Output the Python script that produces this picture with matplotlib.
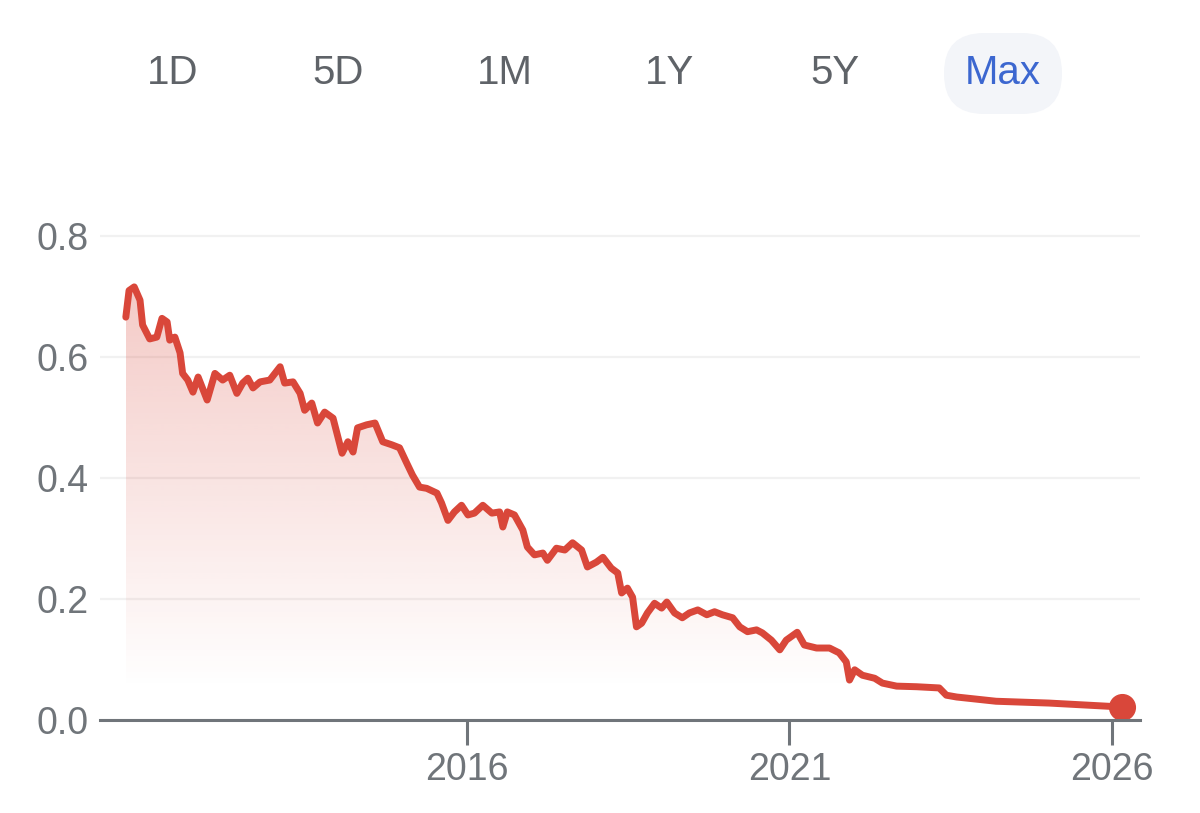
import matplotlib
matplotlib.use("Agg")
import matplotlib.pyplot as plt
import numpy as np
from matplotlib.patches import FancyBboxPatch, Polygon
from matplotlib.transforms import IdentityTransform

plt.rcParams['font.family'] = ['Liberation Sans', 'DejaVu Sans']

# values (decimal year, price)
years = [2010.72, 2010.77, 2010.85, 2010.94, 2010.98, 2011.09, 2011.20, 2011.28,
         2011.36, 2011.40, 2011.48, 2011.56, 2011.60, 2011.68, 2011.76, 2011.84,
         2011.98, 2012.10, 2012.22, 2012.33, 2012.44, 2012.53, 2012.61, 2012.69,
         2012.80, 2012.95, 2013.11, 2013.18, 2013.31, 2013.42, 2013.49, 2013.60,
         2013.69, 2013.80, 2013.93, 2014.07, 2014.16, 2014.24, 2014.31, 2014.45,
         2014.58, 2014.70, 2014.84, 2014.96, 2015.07, 2015.16, 2015.27, 2015.38,
         2015.54, 2015.61, 2015.71, 2015.81, 2015.92, 2016.02, 2016.12, 2016.25,
         2016.39, 2016.51, 2016.56, 2016.63, 2016.74, 2016.87, 2016.94, 2017.05,
         2017.18, 2017.25, 2017.39, 2017.52, 2017.64, 2017.78, 2017.87, 2018.01,
         2018.11, 2018.24, 2018.34, 2018.40, 2018.49, 2018.57, 2018.63, 2018.71,
         2018.80, 2018.91, 2019.02, 2019.10, 2019.22, 2019.34, 2019.45, 2019.58,
         2019.72, 2019.84, 2019.96, 2020.12, 2020.23, 2020.35, 2020.49, 2020.58,
         2020.72, 2020.85, 2020.95, 2021.12, 2021.23, 2021.42, 2021.62, 2021.77,
         2021.88, 2021.93, 2022.01, 2022.13, 2022.32, 2022.44, 2022.66, 2022.97,
         2023.32, 2023.43, 2023.59, 2024.20, 2025.02, 2025.54, 2026.15]
prices = [0.666, 0.710, 0.716, 0.694, 0.653, 0.630, 0.633, 0.664,
          0.658, 0.628, 0.633, 0.607, 0.573, 0.562, 0.542, 0.567,
          0.529, 0.573, 0.562, 0.570, 0.540, 0.557, 0.565, 0.549,
          0.559, 0.562, 0.584, 0.557, 0.559, 0.540, 0.512, 0.524,
          0.491, 0.509, 0.499, 0.441, 0.460, 0.443, 0.483, 0.488,
          0.491, 0.460, 0.455, 0.450, 0.425, 0.405, 0.385, 0.383,
          0.375, 0.359, 0.330, 0.344, 0.355, 0.339, 0.342, 0.355,
          0.342, 0.344, 0.319, 0.344, 0.339, 0.314, 0.286, 0.273,
          0.276, 0.264, 0.284, 0.281, 0.293, 0.281, 0.253, 0.261,
          0.269, 0.251, 0.243, 0.210, 0.218, 0.203, 0.154, 0.160,
          0.177, 0.193, 0.185, 0.195, 0.177, 0.169, 0.177, 0.182,
          0.174, 0.179, 0.174, 0.169, 0.154, 0.146, 0.149, 0.144,
          0.132, 0.116, 0.132, 0.145, 0.124, 0.119, 0.119, 0.111,
          0.096, 0.066, 0.083, 0.074, 0.069, 0.061, 0.056, 0.055,
          0.053, 0.041, 0.038, 0.031, 0.028, 0.025, 0.0215]

ranges = ["1D", "5D", "1M", "1Y", "5Y", "Max"]
x_ticks = [2016, 2021, 2026]
y_ticks = [0.0, 0.2, 0.4, 0.6, 0.8]

RED = '#d9473a'
GRAY = '#70757a'

W, H = 1200, 813
fig = plt.figure(figsize=(W / 100, H / 100), dpi=100)
fig.patch.set_facecolor('white')

# axes placed in pixel terms: x 100..1140, y value 0 at 720px, 0.82 at 224px
ax = fig.add_axes([100 / W, (H - 720) / H, 1040 / W, (720 - 224) / H])
ax.set_xlim(2010.32, 2026.43)
ax.set_ylim(0, 0.82)

x = np.array(years)
y = np.array(prices)

# gradient fill under the line
grad = np.zeros((256, 1, 4))
grad[:, 0, :3] = matplotlib.colors.to_rgb(RED)
levels = np.linspace(0, 0.82, 256)
grad[:, 0, 3] = np.clip((levels - 0.05) / 0.70, 0, 1) * 0.30
img = ax.imshow(grad, extent=[x[0], x[-1], 0, 0.82], origin='lower',
                aspect='auto', interpolation='bilinear', zorder=1)
verts = np.vstack([[x[0], 0], np.column_stack([x, y]), [x[-1], 0]])
poly = Polygon(verts, closed=True, facecolor='none', edgecolor='none')
ax.add_patch(poly)
img.set_clip_path(poly)

ax.plot(x, y, color=RED, lw=5, solid_joinstyle='round',
        solid_capstyle='round', zorder=3)
ax.plot(x[-1], y[-1], 'o', color=RED, markersize=18.5, zorder=4)

ax.set_xticks(x_ticks)
ax.set_xticklabels([str(t) for t in x_ticks])
ax.set_yticks(y_ticks)
ax.set_yticklabels([f"{t:.1f}" for t in y_ticks])
ax.grid(axis='y', color='#f1f1f1', linewidth=1.6, zorder=0)
ax.set_axisbelow(True)

for side in ['top', 'right', 'left']:
    ax.spines[side].set_visible(False)
ax.spines['bottom'].set_color(GRAY)
ax.spines['bottom'].set_linewidth(2.2)
ax.spines['bottom'].set_zorder(5)

ax.tick_params(axis='x', length=18, width=2.2, color=GRAY, labelcolor=GRAY,
               labelsize=27, pad=5)
ax.tick_params(axis='y', length=0, labelcolor=GRAY, labelsize=27, pad=8)

# range buttons on top
pill = FancyBboxPatch((944, H - 114), 118, 81,
                      boxstyle="round,pad=0,rounding_size=40",
                      transform=IdentityTransform(),
                      facecolor='#f3f5f9', edgecolor='none')
fig.patches.append(pill)
centers = [173, 338, 505, 670, 835, 1003]
for label, cx in zip(ranges, centers):
    color = '#3c67d0' if label == "Max" else '#5f6368'
    fig.text(cx / W, (H - 73) / H, label, ha='center', va='center',
             fontsize=29, color=color)

plt.savefig('out.png', dpi=100)
